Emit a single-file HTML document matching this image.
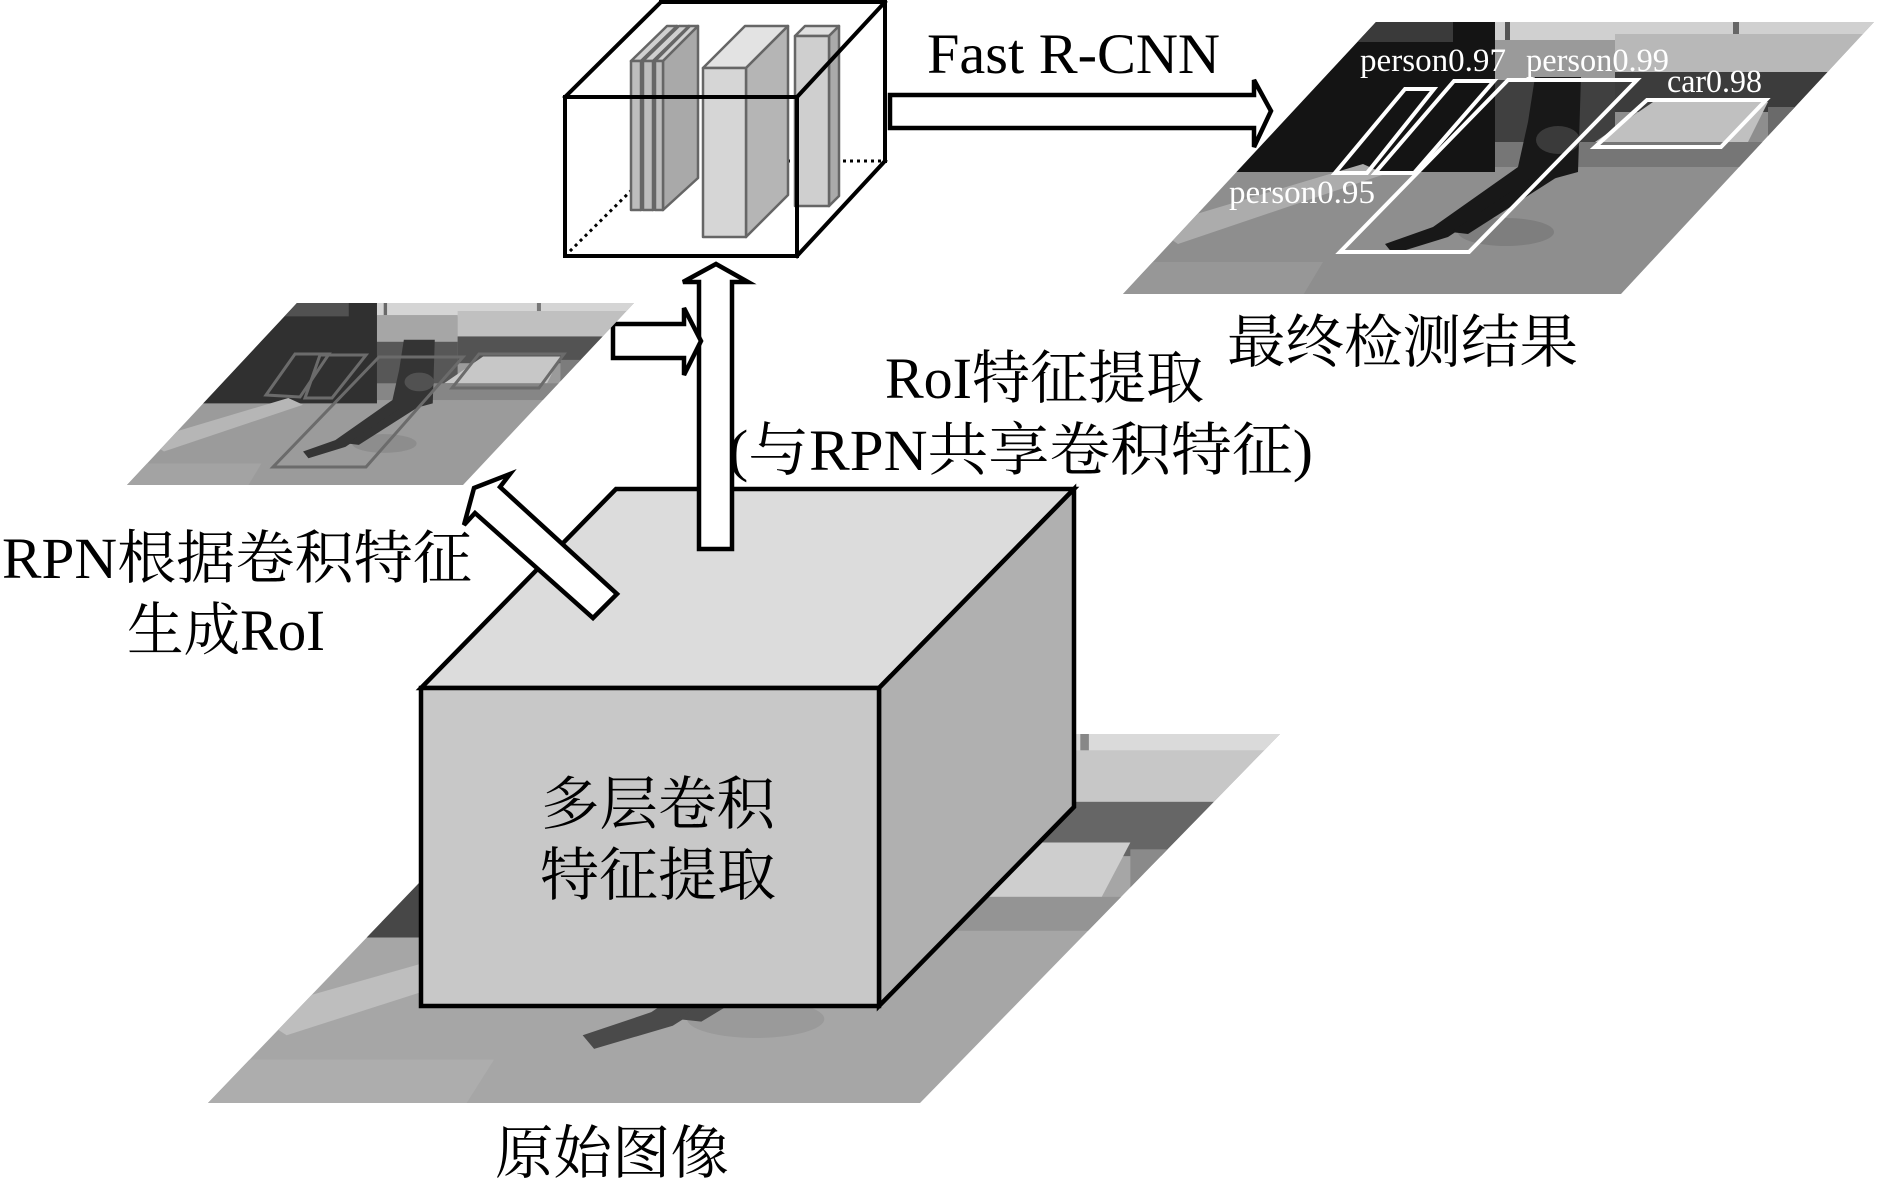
<!DOCTYPE html>
<html><head><meta charset="utf-8"><style>html,body{margin:0;padding:0;background:#fff;}svg{display:block}</style></head>
<body>
<svg width="1886" height="1188" viewBox="0 0 1886 1188" xmlns="http://www.w3.org/2000/svg" xmlns:xlink="http://www.w3.org/1999/xlink">
<defs>
<clipPath id="cR"><polygon points="1376,22 1874,22 1621,294 1123,294"/></clipPath>
<clipPath id="cS"><polygon points="297,303 634,303 463,485 127,485"/></clipPath>
<clipPath id="cO"><polygon points="562,734 1280,734 920,1103 208,1103"/></clipPath>
<g id="photo">
  <rect x="-40" y="-10" width="840" height="300" fill="#8e8e8e"/>
  <polygon points="150,-10 372,-10 372,150 50,150" fill="#141414"/>
  <polygon points="240,-10 330,-10 330,20 230,20" fill="#3a3a3a"/>
  <rect x="372" y="-10" width="420" height="30" fill="#d0d0d0"/>
  <rect x="382" y="-5" width="5" height="25" fill="#555"/>
  <rect x="610" y="-5" width="6" height="25" fill="#666"/>
  <rect x="372" y="18" width="120" height="40" fill="#9a9a9a"/>
  <rect x="372" y="58" width="120" height="85" fill="#404040"/>
  <rect x="492" y="12" width="290" height="38" fill="#b8b8b8"/>
  <rect x="492" y="50" width="290" height="40" fill="#3c3c3c"/>
  <polygon points="530,80 645,80 625,120 472,120" fill="#c0c0c0"/>
  <rect x="645" y="85" width="140" height="40" fill="#6a6a6a"/>
  <rect x="372" y="120" width="420" height="25" fill="#767676"/>
  <polygon points="30,205 240,142 262,152 55,222" fill="#acacac"/>
  <polygon points="-40,240 200,240 170,290 -40,290" fill="#979797"/>
  <ellipse cx="383" cy="210" rx="48" ry="14" fill="#7e7e7e"/>
  <polygon points="412,55 458,55 455,150 400,165 325,215 270,232 262,222 310,205 395,145 405,100" fill="#181818"/>
  <polygon points="420,148 442,150 345,212 328,210" fill="#181818"/>
  <ellipse cx="435" cy="118" rx="22" ry="14" fill="#3a3a3a"/>
</g>
</defs>

<!-- original image (bottom) -->
<g clip-path="url(#cO)">
  <use href="#photo" xlink:href="#photo" transform="matrix(1.43,0,0,1.357,208,734)"/>
  <rect x="150" y="700" width="1200" height="420" fill="#fff" opacity="0.22"/>
</g>

<!-- cube -->
<g stroke="#000" stroke-width="4.5" stroke-linejoin="miter">
  <polygon points="421,688 879,688 1074,489 616,489" fill="#dcdcdc"/>
  <polygon points="879,688 1074,489 1074,807 879,1006" fill="#b0b0b0"/>
  <rect x="421" y="688" width="458" height="318" fill="#c8c8c8"/>
</g>

<!-- arrows -->
<g fill="#fff" stroke="#000" stroke-width="4.5" stroke-linejoin="miter">
  <polygon points="699,549 699,282 683,282 716,264 748,282 732,282 732,549"/>
  <polygon points="613,324 684,324 684,308 701,341 684,375 684,358 613,358"/>
  <polygon points="890,95 1254,95 1254,80 1271,111 1254,147 1254,128 890,128"/>
  <polygon points="474,488 510,474 500,487 617,594 593,618 475,513 464,525"/>
</g>

<!-- top feature box: dotted hidden edges -->
<g stroke="#000" stroke-width="3" stroke-dasharray="3 4" fill="none">
  <line x1="661" y1="161" x2="885" y2="161"/>
  <line x1="565" y1="256" x2="661" y2="161"/>
</g>
<!-- bars -->
<g stroke="#666" stroke-width="2.5" stroke-linejoin="round">
  <polygon points="631,61 641,61 677,26 667,26" fill="#d0d0d0"/>
  <polygon points="641,61 677,26 677,178 641,210" fill="#a9a9a9"/>
  <rect x="631" y="61" width="10" height="149" fill="#bdbdbd"/>
  <polygon points="643,61 653,61 689,26 679,26" fill="#d0d0d0"/>
  <polygon points="653,61 689,26 689,178 653,210" fill="#a9a9a9"/>
  <rect x="643" y="61" width="10" height="149" fill="#bdbdbd"/>
  <polygon points="655,61 663,61 698,26 690,26" fill="#d0d0d0"/>
  <polygon points="663,61 698,26 698,178 663,210" fill="#a9a9a9"/>
  <rect x="655" y="61" width="8" height="149" fill="#bdbdbd"/>

  <polygon points="703,68 746,68 788,26 745,26" fill="#e3e3e3"/>
  <polygon points="746,68 788,26 788,195 746,237" fill="#b5b5b5"/>
  <rect x="703" y="68" width="43" height="169" fill="#d6d6d6"/>

  <polygon points="795,36 829,36 839,26 805,26" fill="#e0e0e0"/>
  <polygon points="829,36 839,26 839,196 829,206" fill="#aaaaaa"/>
  <rect x="795" y="36" width="34" height="170" fill="#cfcfcf"/>
</g>
<!-- box outline -->
<g stroke="#000" stroke-width="4" fill="none" stroke-linecap="square">
  <rect x="565" y="97" width="232" height="159"/>
  <line x1="661" y1="2" x2="885" y2="2"/>
  <line x1="885" y1="2" x2="885" y2="161"/>
  <line x1="565" y1="97" x2="661" y2="2"/>
  <line x1="797" y1="97" x2="885" y2="2"/>
  <line x1="797" y1="256" x2="885" y2="161"/>
</g>

<!-- RPN small image -->
<g clip-path="url(#cS)">
  <use href="#photo" xlink:href="#photo" transform="matrix(0.672,0,0,0.669,127,303)"/>
  <rect x="100" y="290" width="560" height="210" fill="#fff" opacity="0.12"/>
</g>
<g stroke="#6b6b6b" stroke-width="3" fill="none">
  <polygon points="295,354 329,354 300,397 266,395"/>
  <polygon points="320,355 366,355 332,398 305,398"/>
  <polygon points="379,357 463,357 366,467 273,467"/>
  <polygon points="479,354 564,354 539,388 452,388"/>
</g>

<!-- result image -->
<g clip-path="url(#cR)">
  <use href="#photo" xlink:href="#photo" transform="translate(1123,22)"/>
</g>
<g stroke="#fff" stroke-width="4" fill="none">
  <polygon points="1405,89 1434,89 1367,173 1335,173"/>
  <polygon points="1454,81 1494,81 1414,173 1375,173"/>
  <polygon points="1508,80 1637,80 1469,252 1340,252"/>
  <polygon points="1647,100 1766,100 1721,147 1595,147"/>
</g>
<g font-family="'Liberation Serif', serif" font-size="33" fill="#fff">
  <text x="1360" y="71" textLength="146" lengthAdjust="spacingAndGlyphs">person0.97</text>
  <text x="1526" y="71" textLength="143" lengthAdjust="spacingAndGlyphs">person0.99</text>
  <text x="1667" y="92" textLength="95" lengthAdjust="spacingAndGlyphs">car0.98</text>
  <text x="1229" y="203" textLength="146" lengthAdjust="spacingAndGlyphs">person0.95</text>
</g>

<!-- labels -->
<g font-family="'Liberation Serif', 'Noto Serif CJK SC', serif" font-size="58" fill="#000">
  <text x="927" y="73" font-size="57" textLength="293" lengthAdjust="spacingAndGlyphs">Fast R-CNN</text>
  <text x="1227" y="362" textLength="351" lengthAdjust="spacingAndGlyphs">最终检测结果</text>
  <text x="885" y="398" textLength="319" lengthAdjust="spacingAndGlyphs">RoI特征提取</text>
  <text x="728" y="470" textLength="585" lengthAdjust="spacingAndGlyphs">(与RPN共享卷积特征)</text>
  <text x="2" y="578" textLength="470" lengthAdjust="spacingAndGlyphs">RPN根据卷积特征</text>
  <text x="127" y="650" textLength="198" lengthAdjust="spacingAndGlyphs">生成RoI</text>
  <text x="541" y="824" textLength="234" lengthAdjust="spacingAndGlyphs">多层卷积</text>
  <text x="540" y="895" textLength="236" lengthAdjust="spacingAndGlyphs">特征提取</text>
  <text x="495" y="1173" textLength="234" lengthAdjust="spacingAndGlyphs">原始图像</text>
</g>
</svg>
</body></html>
